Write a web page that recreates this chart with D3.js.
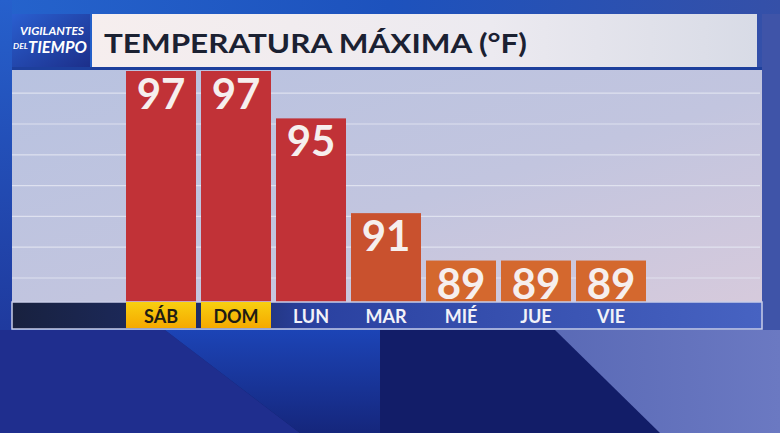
<!DOCTYPE html>
<html lang="es">
<head>
<meta charset="utf-8" />
<title>Temperatura máxima</title>
<script src="https://cdn.jsdelivr.net/npm/d3@7"></script>
<style>
  html, body { margin: 0; padding: 0; background: #16226e; }
  svg { display: block; }
</style>
</head>
<body>
<script>
  var days = ["SÁB", "DOM", "LUN", "MAR", "MIÉ", "JUE", "VIE"];
  var highs = [97, 97, 95, 91, 89, 89, 89];
  var weekend = ["SÁB", "DOM"];

  const W = 780, H = 433;
  const plot = {left: 12, right: 762, top: 70, bottom: 302};
  const stripH = 27;

  var svg = d3.select("body").append("svg")
      .attr("width", W)
      .attr("height", H);

  var defs = svg.append("defs");

  function linGrad(id, x1, y1, x2, y2, stops) {
    let g = defs.append("linearGradient").attr("id", id)
        .attr("x1", x1).attr("y1", y1).attr("x2", x2).attr("y2", y2);
    stops.forEach(s => g.append("stop").attr("offset", s[0]).attr("stop-color", s[1]));
  }
  linGrad("bgTop", 0, 0, 1, 0, [[0, "#2563cc"], [0.5, "#1d52bd"], [1, "#3550a8"]]);
  linGrad("bgLeft", 0, 0, 0, 1, [[0, "#2660cc"], [1, "#1f3a9e"]]);
  linGrad("wedge", 0, 0, 0, 1, [[0, "#1c44b6"], [1, "#15267c"]]);
  linGrad("peri", 0, 0, 1, 0, [[0, "#5a6ab6"], [1, "#6b79c2"]]);
  linGrad("plotBg", 0, 0, 1, 1, [[0, "#b8c2e0"], [0.55, "#c2c5df"], [1, "#d6cadc"]]);
  linGrad("titleBg", 0, 0, 1, 0, [[0, "#f6eeee"], [0.6, "#eceaf0"], [1, "#d8dbe6"]]);
  linGrad("strip", 0, 0, 1, 0, [[0, "#18213f"], [0.3, "#1f2f70"], [0.4, "#2a41a0"], [1, "#4763c2"]]);
  linGrad("yellow", 0, 0, 0, 1, [[0, "#f8cf10"], [1, "#f5a900"]]);
  linGrad("logo", 0, 0, 1, 1, [[0, "#2a5fd0"], [1, "#1c2f8a"]]);

  // background
  svg.append("rect").attr("width", W).attr("height", H).attr("fill", "#121d68");
  svg.append("rect").attr("width", W).attr("height", 330).attr("fill", "url(#bgTop)");
  svg.append("rect").attr("x", 0).attr("y", 0).attr("width", 12).attr("height", 330)
      .attr("fill", "url(#bgLeft)");
  svg.append("polygon")
      .attr("points", [[0, 330], [165, 330], [300, H], [0, H]].join(" "))
      .attr("fill", "#1f2e8e");
  svg.append("polygon")
      .attr("points", [[165, 330], [380, 330], [380, H], [300, H]].join(" "))
      .attr("fill", "url(#wedge)");
  svg.append("polygon")
      .attr("points", [[555, 330], [W, 330], [W, H], [660, H]].join(" "))
      .attr("fill", "url(#peri)");
  svg.append("rect").attr("x", plot.right).attr("y", 14).attr("width", W - plot.right).attr("height", 316)
      .attr("fill", "#3f54a8");

  // title
  svg.append("rect").attr("x", 12).attr("y", 14).attr("width", 78).attr("height", 53)
      .attr("fill", "url(#logo)");
  svg.append("rect").attr("x", 92).attr("y", 14).attr("width", plot.right - 5 - 92).attr("height", 53)
      .attr("fill", "url(#titleBg)");
  svg.append("rect").attr("x", 12).attr("y", 67).attr("width", plot.right - 12).attr("height", 3)
      .attr("fill", "#1d3f9c");

  var logo = svg.append("g")
      .attr("fill", "#ffffff")
      .attr("font-family", "Lato, sans-serif")
      .attr("font-style", "italic")
      .attr("font-weight", 700);
  logo.append("text").attr("x", 20).attr("y", 35).attr("font-size", 12)
      .attr("textLength", 64).attr("lengthAdjust", "spacingAndGlyphs").text("VIGILANTES");
  logo.append("text").attr("x", 13).attr("y", 49).attr("font-size", 8)
      .attr("textLength", 15).attr("lengthAdjust", "spacingAndGlyphs").text("DEL");
  logo.append("text").attr("x", 28).attr("y", 53).attr("font-size", 17)
      .attr("textLength", 59).attr("lengthAdjust", "spacingAndGlyphs").text("TIEMPO");

  svg.append("text")
      .attr("x", 104).attr("y", 53)
      .attr("font-family", "Lato, sans-serif")
      .attr("font-weight", 700)
      .attr("font-size", 27)
      .attr("textLength", 423)
      .attr("lengthAdjust", "spacingAndGlyphs")
      .attr("fill", "#1b2132")
      .text("TEMPERATURA MÁXIMA (°F)");

  // plot area
  svg.append("rect")
      .attr("x", plot.left).attr("y", plot.top)
      .attr("width", plot.right - plot.left).attr("height", plot.bottom - plot.top)
      .attr("fill", "url(#plotBg)");

  var x = d3.scaleBand(days, [123.5, 648.5])
      .paddingInner(5 / 75)
      .paddingOuter(2.5 / 75);
  var y = d3.scaleLinear([87.25, 97], [plot.bottom, plot.top + 1]);

  var gridYs = d3.range(7).map(i => plot.bottom - 24 - i * 30.8);
  svg.append("g").selectAll("line")
      .data(gridYs)
      .join("line")
      .attr("x1", plot.left).attr("x2", plot.right - 2)
      .attr("y1", d => d).attr("y2", d => d)
      .attr("stroke", "#e4e6f2")
      .attr("stroke-opacity", 0.85)
      .attr("stroke-width", 1.2);

  function barColor(v) {
    if (v >= 95) return "#c13237";
    if (v >= 91) return "#c9512e";
    return "#d4682e";
  }

  var data = days.map((d, i) => ({day: d, value: highs[i]}));

  svg.append("g").selectAll("rect")
      .data(data)
      .join("rect")
      .attr("x", d => x(d.day))
      .attr("y", d => y(d.value))
      .attr("width", x.bandwidth())
      .attr("height", d => y.range()[0] - y(d.value))
      .attr("fill", d => barColor(d.value));

  svg.append("g").selectAll("text")
      .data(data)
      .join("text")
      .attr("x", d => x(d.day) + x.bandwidth() / 2)
      .attr("y", d => y(d.value) + 38)
      .attr("text-anchor", "middle")
      .attr("font-family", "Lato, sans-serif")
      .attr("font-weight", 700)
      .attr("font-size", 42)
      .attr("fill", "#f6efee")
      .text(d => d.value);

  // day strip
  svg.append("rect")
      .attr("x", plot.left).attr("y", plot.bottom)
      .attr("width", plot.right - plot.left).attr("height", stripH)
      .attr("fill", "url(#strip)")
      .attr("stroke", "#c9cde8")
      .attr("stroke-width", 1.5);

  svg.append("g").selectAll("rect")
      .data(weekend)
      .join("rect")
      .attr("x", d => x(d))
      .attr("y", plot.bottom)
      .attr("width", x.bandwidth())
      .attr("height", stripH - 1)
      .attr("fill", "url(#yellow)");

  svg.append("g").selectAll("text")
      .data(days)
      .join("text")
      .attr("x", d => x(d) + x.bandwidth() / 2)
      .attr("y", plot.bottom + 21)
      .attr("text-anchor", "middle")
      .attr("font-family", "Lato, sans-serif")
      .attr("font-weight", 700)
      .attr("font-size", 18)
      .attr("fill", d => weekend.includes(d) ? "#1e1c14" : "#f2f2f8")
      .text(d => d);
</script>
</body>
</html>
